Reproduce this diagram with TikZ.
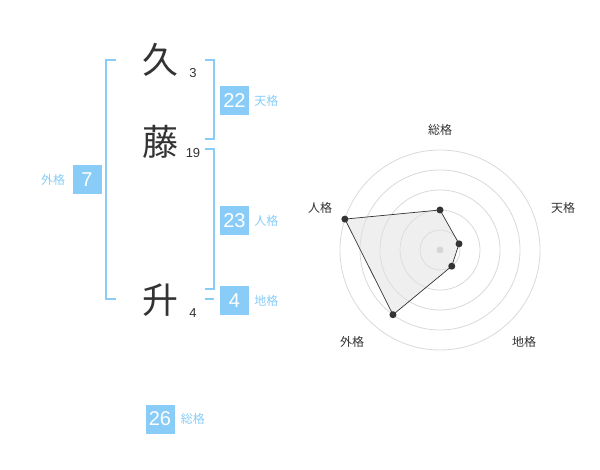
\documentclass[tikz,border=0pt]{standalone}
\usepackage{fontspec}
\setmainfont{Liberation Sans}
\newfontfamily\jp{Noto Sans CJK JP}
\definecolor{kaku}{HTML}{88CCF7}
\definecolor{ink}{HTML}{333333}
\usetikzlibrary{positioning}

\begin{document}
\begin{tikzpicture}[x=1pt, y=-1pt,
  kanji/.style={font=\jp\fontsize{36}{36}\selectfont, text=ink, inner sep=0pt},
  strokes/.style={font=\fontsize{13}{13}\selectfont, text=ink, inner sep=0pt},
  kbox/.style={fill=kaku, text=white, minimum size=29pt, inner sep=0pt,
               font=\fontsize{20}{20}\selectfont},
  klabel/.style={font=\jp\fontsize{12}{12}\selectfont, text=kaku, inner sep=0pt},
  bracket/.style={draw=kaku, line width=1.6pt},
  ring/.style={draw=black!15, line width=0.8pt},
  rlabel/.style={font=\jp\fontsize{12}{12}\selectfont, text=ink, inner sep=0pt},
  dot/.style={circle, fill=ink, inner sep=0pt, minimum size=7pt},
]
\useasboundingbox (0,0) rectangle (600,470);

% name
\node[kanji] (k1) at (160,60) {久};
\node[kanji] (k2) at (160,142) {藤};
\node[kanji] (k3) at (160,300) {升};
\node[strokes] (s1) at (193,73) {3};
\node[strokes] (s2) at (193,153) {19};
\node[strokes] (s3) at (193,313) {4};

% brackets
\draw[bracket] (116,60) -- (106,60) -- (106,299) -- (116,299);
\draw[bracket] (205,60) -- (214,60) -- (214,139) -- (205,139);
\draw[bracket] (205,149) -- (214,149) -- (214,289) -- (205,289);
\draw[bracket] (205,299) -- (214,299);

% fortunes
\node[kbox] (gai) at (87,180) {7};
\node[kbox] (ten) at (234.5,100.5) {22};
\node[kbox] (jin) at (234.5,220.5) {23};
\node[kbox] (chi) at (234.5,300.5) {4};
\node[kbox] (sou) at (160,419) {26};

\node[klabel, left=7pt of gai] {外格};
\node[klabel, right=5pt of ten] {天格};
\node[klabel, right=5pt of jin] {人格};
\node[klabel, right=5pt of chi] {地格};
\node[klabel, right=6pt of sou] {総格};

% radar
\begin{scope}[shift={(440,250)}, yscale=-1]
  \foreach \r in {20,40,...,100}
    \draw[ring] (0,0) circle[radius=\r];
  \node[circle, fill=black!20, inner sep=0pt, minimum size=7pt] (mid) at (0,0) {};

  \node[rlabel] (lsou) at (90:120) {総格};
  \node[rlabel] (lten) at (123,42) {天格};
  \node[rlabel] (ljin) at (-120,42) {人格};
  \node[rlabel] (lgai) at (-88,-92) {外格};
  \node[rlabel] (lchi) at (84,-92) {地格};

  \coordinate (psou) at (90:40);
  \coordinate (pten) at (18:20);
  \coordinate (pchi) at (-54:20);
  \coordinate (pgai) at (-126:80);
  \coordinate (pjin) at (162:100);

  \draw[fill=black!12, fill opacity=0.5, draw=ink, line width=0.7pt]
    (psou) -- (pten) -- (pchi) -- (pgai) -- (pjin) -- cycle;
  \foreach \p in {psou,pten,pchi,pgai,pjin}
    \node[dot] at (\p) {};
\end{scope}
\end{tikzpicture}
\end{document}
